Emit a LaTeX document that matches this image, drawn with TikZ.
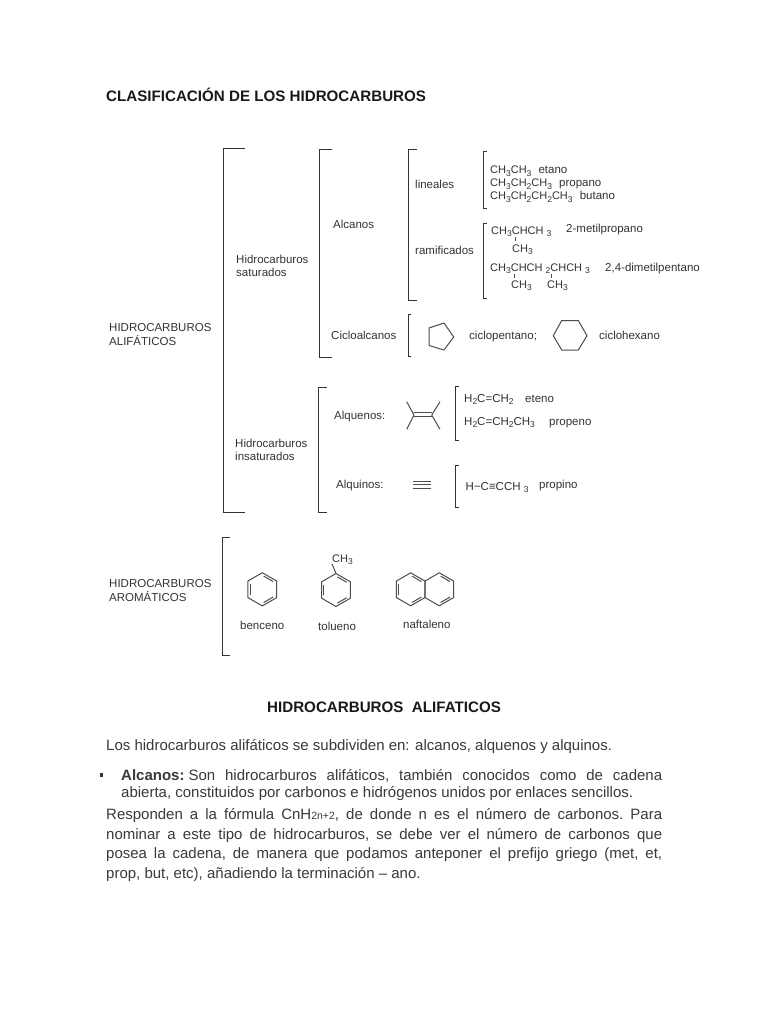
\documentclass[tikz,border=0pt]{standalone}
\usepackage{fontspec}
\setmainfont{Liberation Sans}
\usetikzlibrary{calc}
\definecolor{ink}{HTML}{333333}
\definecolor{body}{HTML}{3A3A3A}
\newcommand{\sm}{\fontsize{11.5}{13}\selectfont}
\newcommand{\fm}{\fontsize{11}{13}\selectfont}
\newcommand{\sbs}[1]{\raisebox{-2.2pt}{\fontsize{8.5}{9}\selectfont #1}}
\newcommand{\T}[4]{\node[txt] (#1) at (#2,#3) {#4};}
\newcommand{\F}[4]{\node[txt,font=\fm] (#1) at (#2,#3) {#4};}
\newcommand{\BK}[4]{\draw[bk] (#1+#4,#2) -- (#1,#2) -- (#1,#3) -- (#1+#4,#3);}
\newcommand{\Hexa}[4]{%
  \draw[bond] ($(#1,#2)+(30:#3)$) -- ($(#1,#2)+(90:#3)$) -- ($(#1,#2)+(150:#3)$) -- ($(#1,#2)+(210:#3)$) -- ($(#1,#2)+(270:#3)$) -- ($(#1,#2)+(330:#3)$) -- cycle;
  \foreach \a in {#4} {\draw[bond] ($(#1,#2)+(\a+6:#3*0.8)$) -- ($(#1,#2)+(\a+54:#3*0.8)$);}}
\newcommand{\J}[5]{\node[txtb,anchor=base west] (#1) at (#2,#3) {\hbox to #4pt{\frenchspacing\spaceskip=0.28em plus 1fil minus 0.1em #5}};}
\tikzset{
  txt/.style={anchor=base west,inner sep=0pt,text=ink,font=\sm},
  txtb/.style={inner sep=0pt,text=body,font=\fontsize{15}{17}\selectfont},
  head/.style={txt,font=\bfseries\fontsize{15.15}{17}\selectfont,text=black!90},
  bk/.style={draw=black!80,line width=0.95pt},
  bond/.style={draw=black!70,line width=1pt,line join=round}
}
\begin{document}
\begin{tikzpicture}[x=1pt,y=-1pt]
\useasboundingbox (0,0) rectangle (768,1024);
\fill[white] (0,0) rectangle (768,1024);
% headings
\node[head] (title) at (106,102) {CLASIFICACIÓN DE LOS HIDROCARBUROS};
\node[head] (head2) at (267,712) {HIDROCARBUROS\ \ ALIFATICOS};
% brackets
\BK{223.3}{148}{512}{22}
\BK{319.3}{149}{357.7}{13}
\BK{408}{149}{300.7}{9}
\BK{483}{151}{208}{4}
\BK{483}{223}{298}{4}
\BK{408}{314}{356}{3}
\BK{318.5}{387}{512}{8}
\BK{455}{386}{440}{4}
\BK{455}{465}{507}{4}
\BK{222.5}{537}{655}{7}
% left labels
\T{a1}{109}{331}{HIDROCARBUROS}
\T{a2}{109}{345}{ALIFÁTICOS}
\T{a3}{109}{587}{HIDROCARBUROS}
\T{a4}{109}{601}{AROMÁTICOS}
\T{b1}{236}{263}{Hidrocarburos}
\T{b2}{236}{276}{saturados}
\T{b3}{235}{447}{Hidrocarburos}
\T{b4}{235}{460}{insaturados}
\T{c1}{333}{229}{Alcanos}
\T{c2}{331}{339}{Cicloalcanos}
\T{c3}{334}{419}{Alquenos:}
\T{c4}{336}{488}{Alquinos:}
\T{d1}{415}{189}{lineales}
\T{d2}{415}{254}{ramificados}
% alkanes
\F{e1}{490}{174}{CH\sbs{3}CH\sbs{3}\ \ \kern1pt\sm etano}
\F{e2}{490}{187}{CH\sbs{3}CH\sbs{2}CH\sbs{3}\ \ \kern1pt\sm propano}
\F{e3}{490}{200}{CH\sbs{3}CH\sbs{2}CH\sbs{2}CH\sbs{3}\ \ \kern1pt\sm butano}
\F{f1}{491}{234}{CH\sbs{3}CHCH \sbs{3}}
\T{f2}{566}{233}{2-metilpropano}
\F{f3}{512}{252}{CH\sbs{3}}
\F{g1}{490}{271}{CH\sbs{3}CHCH \sbs{2}CHCH \sbs{3}}
\T{g2}{605}{271}{2,4-dimetilpentano}
\F{g3}{511}{288}{CH\sbs{3}}
\F{g4}{547}{288}{CH\sbs{3}}
\draw[bond] (515,237) -- (515,241);
\draw[bond] (514.5,274) -- (514.5,278);
\draw[bond] (551.5,274) -- (551.5,278);
% cycles
\draw[bond] (429,328) -- (444,323) -- (453.7,337) -- (444,350) -- (429,345.5) -- cycle;
\draw[bond] (553.3,335.7) -- (561.7,320.5) -- (578.3,320.5) -- (587,335.7) -- (578.3,350) -- (561.7,350) -- cycle;
\T{h1}{469}{339}{ciclopentano;}
\T{h2}{599}{339}{ciclohexano}
% alkene
\draw[bond] (406.7,401.7) -- (414,415) -- (406.7,429.3);
\draw[bond] (440,401.7) -- (431.7,415) -- (440,429.3);
\draw[bond] (414,412.5) -- (431.7,412.5);
\draw[bond] (414,416.5) -- (431.7,416.5);
\T{i1}{464}{402}{H\sbs{2}C=CH\sbs{2}}
\T{i2}{525}{402}{eteno}
\T{i3}{464}{425}{H\sbs{2}C=CH\sbs{2}CH\sbs{3}}
\T{i4}{549}{425}{propeno}
% alkyne
\draw[bond] (413.3,481) -- (431,481);
\draw[bond] (413.3,484.7) -- (431,484.7);
\draw[bond] (413.3,488.3) -- (431,488.3);
\T{j1}{465.5}{490.5}{H−C≡CCH \sbs{3}}
\T{j2}{539}{488}{propino}
% aromatics
\Hexa{262.3}{589.3}{16.6}{150,270,30}
\Hexa{336}{590}{16.5}{150,270,30}
\draw[bond] (336,573.5) -- (332,564);
\F{k1}{332}{562}{CH\sbs{3}}
\Hexa{410.7}{589.3}{16.5}{150,270,30}
\Hexa{439.3}{589.3}{16.5}{270,30}
\T{l1}{240}{629}{benceno}
\T{l2}{318}{630}{tolueno}
\T{l3}{403}{628}{naftaleno}
% body text
\node[txtb,anchor=base west] (p0) at (106,750) {Los hidrocarburos alifáticos se subdividen en: alcanos, alquenos y alquinos.};
\fill[black!80] (100,772.5) rectangle (103,776.5);
\J{p1}{121}{780}{541}{\textbf{Alcanos:}\hspace{4pt}Son hidrocarburos alifáticos, también conocidos como de cadena}
\node[txtb,anchor=base west] (p2) at (121,797) {abierta, constituidos por carbonos e hidrógenos unidos por enlaces sencillos.};
\J{p3}{106}{819}{556}{Responden a la fórmula CnH{\fontsize{10.5}{11}\selectfont 2n+2}, de donde n es el número de carbonos. Para}
\J{p4}{106}{839}{556}{nominar a este tipo de hidrocarburos, se debe ver el número de carbonos que}
\J{p5}{106}{858}{556}{posea la cadena, de manera que podamos anteponer el prefijo griego (met, et,}
\node[txtb,anchor=base west] (p6) at (106,878) {prop, but, etc), añadiendo la terminación – ano.};
\end{tikzpicture}
\end{document}
